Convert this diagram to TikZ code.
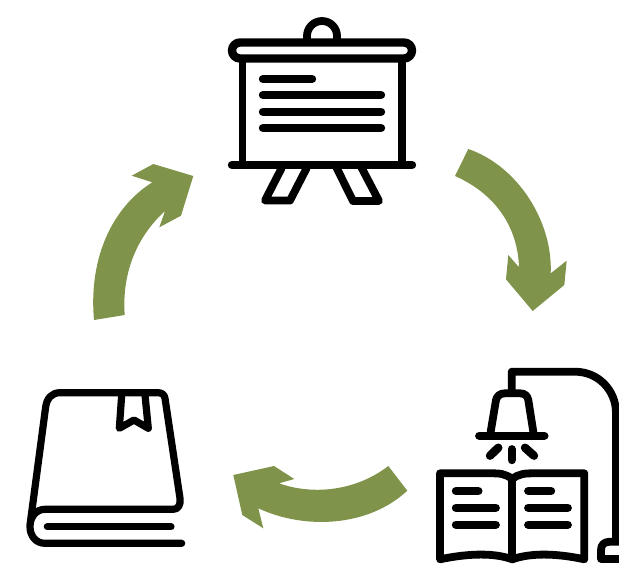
\documentclass[tikz,border=0pt]{standalone}
\definecolor{arrowgreen}{HTML}{7F934A}
\tikzset{
  icon/.style={draw=black,line width=7.8pt,line cap=round,line join=round},
  heavy/.style={icon,line width=8.4pt},
  slim/.style={icon,line width=7.2pt},
  flow/.style={fill=arrowgreen,draw=none}
}
\begin{document}
\begin{tikzpicture}[x=1pt,y=-1pt]
\useasboundingbox (0,0) rectangle (619,566);
\clip (0,0) rectangle (619,566);
% --- green arrows
\fill[flow] (468.3,149) .. controls (518,166) and (553,222) .. (550.7,273.3)
  -- (566.7,260.7) -- (564.3,285) -- (532.7,311) -- (506,279.3) -- (508.3,255) -- (519,267.3)
  .. controls (518,232) and (500,196) .. (455,176) -- cycle;
\fill[flow] (94,320) -- (124.7,315) .. controls (121.7,273.3) and (136.7,236.7) .. (165,211)
  -- (159.3,227.3) -- (181,215.7) -- (193.3,176) -- (153.3,164) -- (131.7,175.7) -- (152.3,182.3)
  .. controls (113.3,206.7) and (88.3,256.7) .. cycle;
\fill[flow] (388.3,466) -- (407.3,490.7) .. controls (368.3,527) and (305,530) .. (258.3,508.3)
  -- (263.3,528.3) -- (242.3,515) -- (233.3,475) -- (274,466) -- (294.3,479) -- (279,483.3)
  .. controls (311.7,495) and (355,491.7) .. cycle;
% --- presentation board
\draw[icon] (307,40) -- (307,36) .. controls (307,27.7) and (313.7,21) .. (322,21)
  .. controls (330.3,21) and (337,27.7) .. (337,36) -- (337,40);
\draw[heavy,rounded corners=8pt] (232,42.5) rectangle (412,58.5);
\draw[icon] (242.5,59) -- (242.5,165);
\draw[icon] (402,59) -- (402,165);
\draw[heavy] (232,165) -- (412,165);
\draw[heavy] (263,79) -- (312,79);
\draw[heavy] (263,95) -- (381,95);
\draw[heavy] (263,111.7) -- (381,111.7);
\draw[heavy] (263,128) -- (381,128);
\draw[icon] (281.7,168) -- (265,200.5) -- (290,200.5) -- (306.7,168);
\draw[icon] (336.7,168) -- (353,201) -- (379,201) -- (361.7,168);
% --- lamp
\draw[icon] (511.7,393) -- (511.7,371.7) -- (575,371.7)
  .. controls (598,371.7) and (616,390) .. (616,413) -- (616,540);
\draw[icon] (630,541.7) -- (610,541.7) .. controls (604,541.7) and (601,545) .. (601,550)
  -- (601,559) -- (630,559);
\draw[icon] (490.7,431.7) -- (496,400) .. controls (497,396) and (500,393.3) .. (505,393.3)
  -- (520,393.3) .. controls (525,393.3) and (527.5,396) .. (528.3,400) -- (533.3,431.7);
\draw[heavy] (479.3,435.7) -- (544.3,435.7);
\draw[heavy] (511.7,449.3) -- (511.7,460);
\draw[heavy] (498.3,447.7) -- (490,455.7);
\draw[heavy] (525,447.7) -- (534,455.7);
% --- open book
\draw[icon] (512.3,479) .. controls (505,473.5) and (500,473.3) .. (490,473.3) -- (440,473.3)
  -- (440,559.3) .. controls (470,553) and (495,553) .. (512.3,559.3)
  .. controls (530,553) and (555,553) .. (584.3,559.3) -- (584.3,473.3) -- (535,473.3)
  .. controls (525,473.3) and (519,473.5) .. (512.3,479) -- cycle;
\draw[icon] (512.3,479) -- (512.3,559.3);
\draw[heavy] (456,491) -- (478.3,491);
\draw[heavy] (456,507.7) -- (495.7,507.7);
\draw[heavy] (456,524.7) -- (495.7,524.7);
\draw[heavy] (528.3,491) -- (551,491);
\draw[heavy] (528.3,507.7) -- (567.7,507.7);
\draw[heavy] (528.3,524.7) -- (567.7,524.7);
% --- closed book
\draw[slim] (30,525) -- (45.7,406.7) .. controls (47,398) and (52,392.7) .. (60,392.7)
  -- (158.3,392.7) .. controls (162,392.7) and (164.5,395) .. (165,398.3)
  -- (180,498.3) .. controls (181,505) and (178,509.3) .. (173.3,509.3) -- (45,509.3)
  .. controls (36,509.3) and (30,517) .. (30,526.7)
  .. controls (30,536) and (36,543.3) .. (45,543.3) -- (181.7,543.3);
\draw[slim] (47.3,526.7) -- (171,526.7);
\draw[slim] (121.7,395) -- (119.3,428.3) -- (134,420) -- (148.3,428.3) -- (145,395);
\end{tikzpicture}
\end{document}
